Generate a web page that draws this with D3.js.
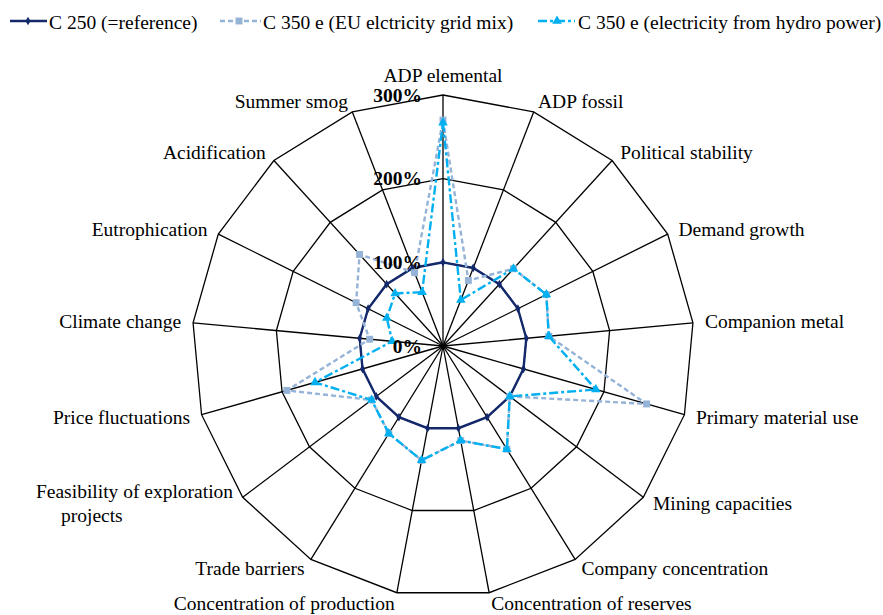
<!DOCTYPE html>
<html>
<head>
<meta charset="utf-8">
<script src="https://cdn.jsdelivr.net/npm/d3@7"></script>
<style>
  html, body { margin: 0; padding: 0; background: #fff; }
  svg text { font-family: "Liberation Serif", "Times New Roman", serif; }
</style>
</head>
<body>
<svg id="chart" width="883" height="615"></svg>
<script>
// Indicators around the radar, clockwise from the top
const categories = [
  "ADP elemental", "ADP fossil", "Political stability", "Demand growth",
  "Companion metal", "Primary material use", "Mining capacities",
  "Company concentration", "Concentration of reserves",
  "Concentration of production", "Trade barriers",
  "Feasibility of exploration projects", "Price fluctuations",
  "Climate change", "Eutrophication", "Acidification", "Summer smog"
];

// Values relative to the C 250 reference (in %)
const c250Reference = [100, 100, 100, 100, 100, 100, 100, 100, 100, 100, 100, 100, 100, 100, 100, 100, 100];
const c350eEuGrid   = [270, 84, 125, 138, 127, 253, 100, 145, 115, 139, 123, 107, 194, 88, 116, 148, 94];
const c350eHydro    = [267, 59, 125, 138, 127, 190, 100, 145, 115, 139, 123, 107, 159, 61, 75, 85, 69];

const seriesNames = [
  "C 250 (=reference)",
  "C 350 e (EU elctricity grid mix)",
  "C 350 e (electricity from hydro power)"
];

const tickValues = [0, 100, 200, 300];
const tickLabels = ["0%", "100%", "200%", "300%"];

const series = [
  { name: seriesNames[0], values: c250Reference, color: "#14296b", dash: null, width: 2.4, symbol: d3.symbolDiamond, size: 22 },
  { name: seriesNames[1], values: c350eEuGrid, color: "#95b3d7", dash: "5,3", width: 2.4, symbol: d3.symbolSquare, size: 48 },
  { name: seriesNames[2], values: c350eHydro, color: "#00b0f0", dash: "9,3,3,3", width: 2.4, symbol: d3.symbolTriangle, size: 40 }
];

const svg = d3.select("#chart");
const cx = 443, cy = 346;
const outerR = 251;
const n = categories.length;

const r = d3.scaleLinear().domain([0, 300]).range([0, outerR]);
const angle = d3.scaleLinear().domain([0, n]).range([0, 2 * Math.PI]);

const px = (i, v) => cx + r(v) * Math.sin(angle(i));
const py = (i, v) => cy - r(v) * Math.cos(angle(i));

const g = svg.append("g");

// Grid rings (polygons) and spokes
const ringLine = d3.lineRadial()
  .angle((d, i) => angle(i))
  .radius(d => r(d))
  .curve(d3.curveLinearClosed);

tickValues.filter(t => t > 0).forEach(t => {
  g.append("path")
    .attr("transform", `translate(${cx},${cy})`)
    .attr("d", ringLine(d3.range(n).map(() => t)))
    .attr("fill", "none")
    .attr("stroke", "#000")
    .attr("stroke-width", 1.3);
});

d3.range(n).forEach(i => {
  g.append("line")
    .attr("x1", cx).attr("y1", cy)
    .attr("x2", px(i, 300)).attr("y2", py(i, 300))
    .attr("stroke", "#000")
    .attr("stroke-width", 1.3);
});

// Category labels outside the outer ring
d3.range(n).forEach(i => {
  const a = angle(i);
  const s = Math.sin(a), c = Math.cos(a);
  let x = px(i, 300) + 12 * s;
  let y = py(i, 300) - 11 * c;
  let anchor = s > 0.1 ? "start" : (s < -0.1 ? "end" : "middle");
  if (Math.abs(s) < 0.1) y -= 9;
  const name = categories[i];
  if (name === "Feasibility of exploration projects") {
    const t = g.append("text")
      .attr("x", x).attr("y", y - 12)
      .attr("text-anchor", "end")
      .attr("dominant-baseline", "central")
      .attr("font-size", 19.5)
      .text("Feasibility of exploration");
    const w = t.node().getComputedTextLength();
    g.append("text")
      .attr("x", x - w + 25).attr("y", y + 12)
      .attr("text-anchor", "start")
      .attr("dominant-baseline", "central")
      .attr("font-size", 19.5)
      .text("projects");
  } else {
    g.append("text")
      .attr("x", x).attr("y", y)
      .attr("text-anchor", anchor)
      .attr("dominant-baseline", "central")
      .attr("font-size", 19.5)
      .text(name);
  }
});

// Series polygons and markers
const seriesLine = d3.lineRadial()
  .angle((d, i) => angle(i))
  .radius(d => r(d))
  .curve(d3.curveLinearClosed);

series.forEach(s => {
  const sg = g.append("g");
  sg.append("path")
    .attr("transform", `translate(${cx},${cy})`)
    .attr("d", seriesLine(s.values))
    .attr("fill", "none")
    .attr("stroke", s.color)
    .attr("stroke-width", s.width)
    .attr("stroke-dasharray", s.dash);
  sg.selectAll("path.pt")
    .data(s.values)
    .join("path")
    .attr("class", "pt")
    .attr("transform", (d, i) => `translate(${px(i, d)},${py(i, d)})`)
    .attr("d", d3.symbol().type(s.symbol).size(s.size))
    .attr("fill", s.color);
});

// Radial axis tick labels along the top spoke
tickValues.forEach((t, k) => {
  g.append("text")
    .attr("x", cx - 21)
    .attr("y", py(0, t))
    .attr("text-anchor", "end")
    .attr("dominant-baseline", "central")
    .attr("font-size", 19.5)
    .attr("font-weight", "bold")
    .text(tickLabels[k]);
});

// Legend
const legendItems = [
  { x1: 10, x2: 47, mx: 28, tx: 49 },
  { x1: 220, x2: 261, mx: 239, tx: 263 },
  { x1: 538, x2: 575, mx: 557, tx: 578 }
];
const legend = svg.append("g");
series.forEach((s, k) => {
  const L = legendItems[k];
  legend.append("line")
    .attr("x1", L.x1).attr("x2", L.x2)
    .attr("y1", 21).attr("y2", 21)
    .attr("stroke", s.color)
    .attr("stroke-width", s.width)
    .attr("stroke-dasharray", s.dash);
  legend.append("path")
    .attr("transform", `translate(${L.mx},21)`)
    .attr("d", d3.symbol().type(s.symbol).size(s.size))
    .attr("fill", s.color);
  legend.append("text")
    .attr("x", L.tx).attr("y", 22)
    .attr("dominant-baseline", "central")
    .attr("font-size", 19.5)
    .text(s.name);
});
</script>
</body>
</html>
